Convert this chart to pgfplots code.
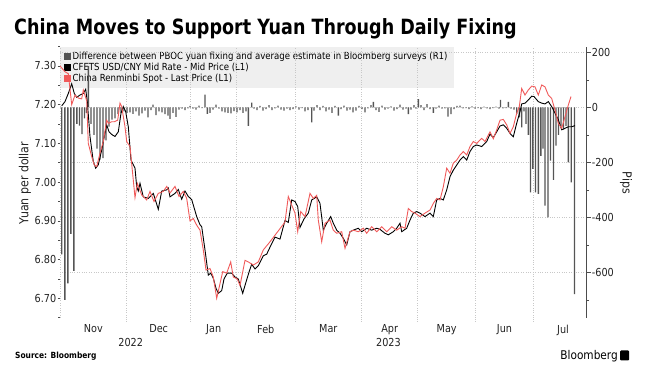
\documentclass[border=0pt]{standalone}
\usepackage{fontspec}
\setmainfont{DejaVu Sans}[FakeStretch=0.88]
\newfontfamily\titlefont{DejaVu Sans}[FakeStretch=0.835]
\usepackage{pgfplots}
\pgfplotsset{compat=1.18}
\definecolor{barc}{HTML}{555555}
\definecolor{redl}{HTML}{F05A5A}
\definecolor{gridc}{HTML}{C8C8C8}
\definecolor{legbg}{HTML}{EFEFEF}
\definecolor{txt}{HTML}{222222}
\pgfplotsset{
  common/.style={
    at={(60pt,59.3pt)}, anchor=south west, scale only axis,
    width=526.7pt, height=271.1pt,
    xmin=60, xmax=586.7,
    tick label style={font=\fontsize{11}{12}\selectfont, text=txt},
  }
}
\begin{document}
\begin{tikzpicture}[x=1pt,y=1pt]
\useasboundingbox (0,0) rectangle (656,377);
\node[anchor=base west, inner sep=0pt, font=\titlefont\bfseries\fontsize{21}{23}\selectfont] at (14,342) {China Moves to Support Yuan Through Daily Fixing};

% legend only
\begin{axis}[common, hide axis, ymin=0, ymax=1,
  legend style={at={(0,1)}, anchor=north west, fill=legbg, draw=none,
    font=\fontsize{9.75}{10.5}\selectfont, inner xsep=4pt, inner ysep=3pt,
    row sep=-1.8pt, cells={anchor=west}},
  legend cell align=left]
\addlegendimage{legend image code/.code={\fill[barc] (0pt,-3pt) rectangle (6pt,3pt);}}
\addlegendentry{Difference between PBOC yuan fixing and average estimate in Bloomberg surveys (R1)}
\addlegendimage{legend image code/.code={\fill[black] (0pt,-3pt) rectangle (6pt,3pt);}}
\addlegendentry{CFETS USD/CNY Mid Rate - Mid Price (L1)}
\addlegendimage{legend image code/.code={\fill[redl] (0pt,-3pt) rectangle (6pt,3pt);}}
\addlegendentry{China Renminbi Spot - Last Price (L1)}
\end{axis}

% bars, right axis
\begin{axis}[common, ymin=-765, ymax=221,
  axis y line*=right, axis x line*=bottom, x axis line style={draw=none},
  y axis line style={draw=black!70, line width=0.9pt},
  ytick={-600,-400,-200,0,200}, yticklabels={-600,-400,-200,0,200},
  minor ytick={-700,-500,-300,-100,100},
  tick align=outside, major tick length=4pt, minor tick length=2.5pt,
  y tick style={black!70, line width=0.6pt},
  yticklabel style={inner sep=1pt},
  ymajorgrids, xmajorgrids, grid style={gridc, dotted, line width=0.6pt},
  xtick={126.7,190.7,236.7,295,361.7,417.7,475.7,533.3}, xticklabels={},
  x tick style={gridc, dotted, line width=0.6pt}]
\addplot[ybar, bar width=1.4pt, fill=barc, draw=none] coordinates {
(61.7,-535) (64.8,-700) (67.8,-640) (70.8,-460) (73.9,-595)
(76.9,-60) (79.5,-66) (82,-97) (84.5,-40) (86.5,-20) (88.3,150)
(91,-60) (94,-100) (97,-150) (100,-190) (103,-185) (106,-120) (109,-70) (112,-45) (115,-40) (118,-25) (121,-20) (124,-15)
(127,-20) (130,-18) (133,-24) (136,-15) (139,-30) (142,-22) (145,-12) (148,-36) (151,-10) (153,10) (156,-28) (159,-15) (162,-18) (165,-25) (168,-30) (170,-42) (173,-20) (176,-35) (179,-8) (182,-5) (185,-10) (188,-4) (190,5)
(193,-5) (196,-8) (199,6) (202,-3) (205,46) (207.3,-24) (210,-20) (213,-8) (216,10) (219,-5) (222,-15) (225,-18) (228,-20) (231,-22) (234,-14) (237,-18) (240,-10) (243,-20) (246,-15) (248.3,-67) (251.7,17) (254,-5) (257,-10) (260,5) (263,-12) (266,-6) (269,8) (272,-10) (275,-4) (278,6) (281,-8) (284,-12) (287,-5) (290,-10) (293,-6) (296,4) (299,-8) (302,-3) (305,-15) (308,-10) (311.7,-55) (314,-12) (317,8) (320,-10) (323,5) (326,-15) (329,-8) (332,-20) (335,5) (338.3,-30) (341,-6) (344,6) (347,-12) (350,-8) (353,-18) (356,-12) (359,5) (362,-6) (365,-18) (368,-4) (371,8) (373.3,20) (376,-10) (379,-16) (382,6) (385,-8) (388,-5) (391,4) (394,-12) (397,-6) (400,10) (403,-8) (406,-5) (408.3,-25) (411,-8) (414,8) (416,-5) (418.3,30) (421,8) (424,-10) (427,12) (430,-6) (433.3,-20) (436,-5) (439,6) (442,-5) (445,-4) (448,-34) (451,-25) (454,-6) (457,5) (460,6) (463,-4) (466,-3) (469,-6) (472,4) (475,-5) (478,-3) (481,-6) (484,3) (487,-4) (490,-6) (493,-3) (496,3) (499,-5) (500.5,27) (503,-4) (506,-3) (508.3,20) (511,-5) (514,-8) (516.7,-24) (519.3,-36) (521.7,-73) (524,-15) (526,-60) (528.3,-100) (530.5,-309) (532.8,-224) (535.5,-309) (538.3,-315) (540.8,-176) (543,-150) (545,-357) (548,-400) (550.5,-194) (553.5,-264) (556,-139) (558.5,-100) (561,-70) (563.5,-80) (566,-67) (568.3,-200) (571.2,-273) (574.5,-679)
};
\end{axis}

% lines, left axis
\begin{axis}[common, ymin=6.65, ymax=7.35,
  axis y line*=left, axis x line*=bottom, x axis line style={draw=none},
  y axis line style={gridc, dotted},
  ytick={6.7,6.8,6.9,7.0,7.1,7.2,7.3}, yticklabels={6.70,6.80,6.90,7.00,7.10,7.20,7.30},
  minor ytick={6.65,6.75,6.85,6.95,7.05,7.15,7.25,7.35},
  tick align=outside, major tick length=2.5pt, minor tick length=2pt,
  y tick style={black!70, line width=0.6pt},
  yticklabel style={inner sep=1pt},
  xtick={93.3,158.7,213.7,265.8,328.3,389.7,446.7,504.5,563},
  xticklabels={Nov,Dec,Jan,Feb,Mar,Apr,May,Jun,Jul},
  x tick style={draw=none},
  xticklabel style={yshift=-1pt},
  extra x ticks={130.7,388.5}, extra x tick labels={2022,2023},
  extra x tick style={tick label style={yshift=-14pt}, x tick style={draw=none}}]
\addplot[black, line width=0.9pt] coordinates {
(61.7,7.197) (65,7.208) (68.3,7.229) (71.7,7.254) (74.3,7.229) (76.7,7.219) (80,7.225) (83.3,7.229) (85.7,7.240) (87.3,7.208) (90,7.118) (93.3,7.053) (95.7,7.036) (98.3,7.045) (101.7,7.083) (104.3,7.118) (106.7,7.148) (109,7.130) (112.3,7.122) (115,7.118) (118.3,7.130) (121,7.178) (123.3,7.195) (125.7,7.182) (128.3,7.143) (131,7.057) (135,7.036) (136.7,6.988) (138.3,6.977) (140,6.997) (143.3,6.962) (148.3,6.958) (153.3,6.971) (158.3,6.930) (161.7,6.977) (166.7,6.980) (168.3,6.985) (170,6.962) (175,6.971) (178.3,6.981) (181.7,6.956) (185,6.977) (188.3,6.963) (191.7,6.955) (196.7,6.911) (200,6.890) (201.7,6.885) (205,6.825) (208.3,6.760) (210.7,6.765) (213.3,6.752) (216,6.726) (218.3,6.713) (221.7,6.720) (224,6.750) (227.3,6.765) (231.7,6.765) (235,6.755) (238.3,6.750) (242.7,6.713) (246,6.742) (249.3,6.770) (251.7,6.788) (255,6.776) (258.3,6.784) (263.3,6.810) (266.7,6.814) (270,6.832) (275,6.858) (280,6.853) (285,6.901) (288.3,6.896) (291.7,6.954) (295,6.950) (297.7,6.937) (300,6.883) (304,6.905) (308.3,6.920) (311.7,6.954) (316.7,6.962) (320,6.945) (323.3,6.876) (326.7,6.894) (330.7,6.911) (333.3,6.894) (336.7,6.876) (340,6.868) (343.3,6.855) (346.7,6.838) (350,6.872) (353.3,6.876) (358.3,6.881) (361.7,6.872) (366.7,6.881) (371.7,6.876) (376.7,6.881) (380,6.878) (385,6.868) (388.3,6.864) (393.3,6.872) (396.7,6.881) (400,6.894) (401.7,6.872) (406.7,6.881) (410,6.902) (413.3,6.920) (416.7,6.924) (420,6.920) (425,6.911) (430,6.920) (433.3,6.911) (436.7,6.954) (440,6.958) (443.3,6.954) (446.7,6.980) (450,7.014) (453.3,7.031) (456.7,7.044) (460,7.057) (463.3,7.066) (466.7,7.057) (470,7.079) (473.3,7.092) (476.7,7.096) (481.7,7.092) (486.7,7.105) (490,7.124) (493.3,7.115) (496.7,7.130) (500,7.145) (503.3,7.148) (506.7,7.139) (510,7.126) (513.3,7.117) (516.7,7.152) (520,7.182) (521.7,7.202) (525,7.204) (528.3,7.212) (531.7,7.222) (534,7.221) (538.3,7.208) (541.7,7.204) (545,7.202) (548.3,7.208) (551.7,7.195) (555,7.178) (558.3,7.161) (561.7,7.135) (565,7.139) (568.3,7.143) (571.7,7.143) (575,7.146)
};
\addplot[redl, line width=0.9pt] coordinates {
(60,7.300) (65,7.285) (68.3,7.280) (71.7,7.200) (75,7.225) (78.3,7.217) (81.7,7.215) (83.3,7.238) (86.7,7.210) (88.3,7.100) (91.7,7.066) (94.3,7.044) (96.7,7.040) (100,7.075) (103.3,7.105) (106.7,7.160) (108.3,7.152) (111.7,7.156) (114.3,7.156) (117.7,7.160) (120,7.204) (121.7,7.195) (125,7.143) (126.7,7.105) (130,7.092) (135,6.960) (137.3,6.997) (141.7,6.967) (146.7,6.954) (150,6.976) (154,6.950) (158.3,6.971) (163.3,6.976) (166.7,6.989) (170,6.972) (175,6.989) (179,6.963) (183.3,6.976) (186.7,6.958) (190,6.900) (193.3,6.906) (196.7,6.889) (200,6.876) (203.3,6.825) (206,6.773) (210,6.777) (213.3,6.755) (216.7,6.700) (220,6.738) (222.7,6.769) (226.7,6.765) (230.7,6.794) (233.3,6.755) (237.3,6.750) (240,6.733) (245,6.798) (248.3,6.794) (253.3,6.786) (258.3,6.794) (263.3,6.825) (270,6.846) (275,6.863) (280,6.880) (285,6.897) (288.3,6.963) (291.7,6.941) (295,6.920) (297.7,6.872) (300.7,6.924) (305,6.911) (310,6.971) (313.3,6.958) (316.7,6.966) (318.3,6.902) (321.7,6.846) (325,6.894) (330,6.902) (333.3,6.876) (336.7,6.868) (341.7,6.872) (345,6.829) (350,6.872) (353.3,6.876) (358.3,6.872) (363.3,6.881) (366.7,6.868) (371.7,6.885) (376.7,6.872) (381.7,6.885) (386.7,6.872) (391.7,6.885) (396.7,6.876) (401.7,6.885) (405,6.881) (408.3,6.932) (411.7,6.924) (415,6.920) (420,6.911) (425,6.920) (430,6.928) (433.3,6.945) (436.7,6.958) (440,6.954) (443.3,6.988) (446.7,7.036) (450,7.023) (453.3,7.049) (456.7,7.057) (460,7.070) (463.3,7.079) (466.7,7.070) (470,7.092) (473.3,7.105) (476.7,7.100) (481.7,7.113) (485,7.105) (490,7.130) (493.3,7.112) (496.7,7.135) (500,7.160) (503.3,7.162) (506.7,7.148) (510,7.126) (513.3,7.143) (516.7,7.178) (519.3,7.195) (521.7,7.242) (525,7.225) (528.3,7.238) (531.7,7.248) (535,7.246) (538.3,7.225) (541.7,7.251) (545,7.246) (548.3,7.225) (551.7,7.216) (555,7.186) (558.3,7.152) (561.7,7.139) (565,7.169) (568.3,7.199) (571,7.221)
};
\end{axis}

\node[rotate=90, font=\fontsize{12.5}{14}\selectfont, text=txt] at (25,194) {Yuan per dollar};
\node[rotate=-90, font=\fontsize{12.5}{14}\selectfont, text=txt] at (626,194) {Pips};
\node[anchor=base west, inner sep=0pt, font=\bfseries\fontsize{8.5}{10}\selectfont] at (15,18) {Source: Bloomberg};
\node[anchor=base east, inner sep=0pt, font=\fontsize{12}{14}\selectfont] at (618,17) {Bloomberg};
\fill[black, rounded corners=1pt] (620,16.5) rectangle (629,26.5);
\end{tikzpicture}
\end{document}
